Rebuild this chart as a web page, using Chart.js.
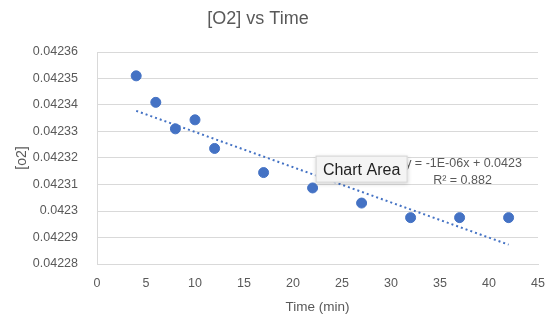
<!DOCTYPE html>
<html>
<head>
<meta charset="utf-8">
<script src="https://cdn.jsdelivr.net/npm/chart.js@4/dist/chart.umd.min.js"></script>
<style>
  html, body { margin: 0; padding: 0; background: #fff; }
  #chart { display: block; }
</style>
</head>
<body>
<canvas id="chart" width="560" height="328"></canvas>
<script>
// Данни, прочетени от картинката
const times = [4, 6, 8, 10, 12, 17, 22, 27, 32, 37, 42];
const o2 = [0.042351, 0.042341, 0.042331, 0.0423344, 0.0423236, 0.0423145,
            0.0423087, 0.042303, 0.0422975, 0.0422975, 0.0422975];
// Линия на тренда (краищата отчетени от картинката)
const trendX = [4, 42];
const trendY = [0.0423378, 0.0422873];
const yTicks = [0.04228, 0.04229, 0.0423, 0.04231, 0.04232, 0.04233, 0.04234, 0.04235, 0.04236];
const xTicks = [0, 5, 10, 15, 20, 25, 30, 35, 40, 45];
const equationText = ['y = -1E-06x + 0.0423', 'R\u00B2 = 0.882'];
const chartTitle = '[O2] vs Time';

const fontFamily = "'Liberation Sans', 'DejaVu Sans', sans-serif";
const textColor = '#595959';

// Плъгин за заглавието, уравнението на тренда и изскачащото "Chart Area"
const annotations = {
    id: 'annotations',
    afterDatasetsDraw(chart) {
        const { ctx, scales: { x, y } } = chart;
        ctx.save();
        ctx.textAlign = 'center';
        ctx.textBaseline = 'middle';

        // заглавието (в Excel е малко наляво от центъра)
        ctx.fillStyle = textColor;
        ctx.font = '18px ' + fontFamily;
        ctx.fillText(chartTitle, 258, 19);

        ctx.font = '12.5px ' + fontFamily;
        ctx.fillText(equationText[0], x.getPixelForValue(37.4), y.getPixelForValue(0.042318));
        ctx.fillText(equationText[1], x.getPixelForValue(37.3), y.getPixelForValue(0.0423115));

        // кутийката "Chart Area"
        const cx = x.getPixelForValue(27);
        const cy = y.getPixelForValue(0.0423158);
        const w = 92, h = 27;
        ctx.shadowColor = 'rgba(0,0,0,0.18)';
        ctx.shadowBlur = 4;
        ctx.shadowOffsetY = 1;
        ctx.fillStyle = '#f4f4f4';
        ctx.fillRect(cx - w / 2, cy - h / 2, w, h);
        ctx.shadowColor = 'transparent';
        ctx.strokeStyle = '#d4d4d4';
        ctx.lineWidth = 1;
        ctx.strokeRect(cx - w / 2 + 0.5, cy - h / 2 + 0.5, w - 1, h - 1);
        ctx.fillStyle = '#222';
        ctx.font = '16px ' + fontFamily;
        ctx.fillText('Chart Area', cx, cy + 1);
        ctx.restore();
    }
};

new Chart(document.getElementById('chart'), {
    type: 'scatter',
    data: {
        datasets: [{
            label: '[o2]',
            data: times.map((t, i) => ({ x: t, y: o2[i] })),
            backgroundColor: '#4472C4',
            borderColor: '#4472C4',
            pointRadius: 5,
            pointHoverRadius: 5,
            order: 1
        }, {
            label: 'trend',
            type: 'line',
            data: trendX.map((t, i) => ({ x: t, y: trendY[i] })),
            borderColor: '#4472C4',
            borderWidth: 2,
            borderDash: [2, 3],
            pointRadius: 0,
            fill: false,
            order: 2
        }]
    },
    options: {
        responsive: false,
        animation: false,
        layout: { padding: { left: 0, right: 22, top: 52, bottom: 0 } },
        plugins: {
            legend: { display: false },
            tooltip: { enabled: false },
            title: { display: false }
        },
        scales: {
            x: {
                type: 'linear',
                min: 0,
                max: 45,
                afterBuildTicks: axis => { axis.ticks = xTicks.map(v => ({ value: v })); },
                afterFit: axis => { axis.height = 64; },
                grid: { display: false, drawTicks: false },
                border: { display: true, color: '#d9d9d9', width: 1 },
                ticks: { color: textColor, font: { family: fontFamily, size: 12.5 }, padding: 12 },
                title: {
                    display: true,
                    text: 'Time (min)',
                    color: textColor,
                    font: { family: fontFamily, size: 13.5 },
                    padding: { top: 4, bottom: 13 }
                }
            },
            y: {
                min: 0.04228,
                max: 0.04236,
                afterBuildTicks: axis => { axis.ticks = yTicks.map(v => ({ value: v })); },
                afterFit: axis => { axis.width = 97; },
                grid: { color: '#d9d9d9', lineWidth: 1, drawTicks: false },
                border: { display: true, color: '#d9d9d9', width: 1 },
                ticks: {
                    color: textColor,
                    font: { family: fontFamily, size: 12.5 },
                    padding: 19,
                    callback: v => String(parseFloat(Number(v).toFixed(6)))
                },
                title: {
                    display: true,
                    text: '[o2]',
                    color: textColor,
                    font: { family: fontFamily, size: 14 },
                    padding: { top: 14, bottom: 0 }
                }
            }
        }
    },
    plugins: [annotations]
});
</script>
</body>
</html>
